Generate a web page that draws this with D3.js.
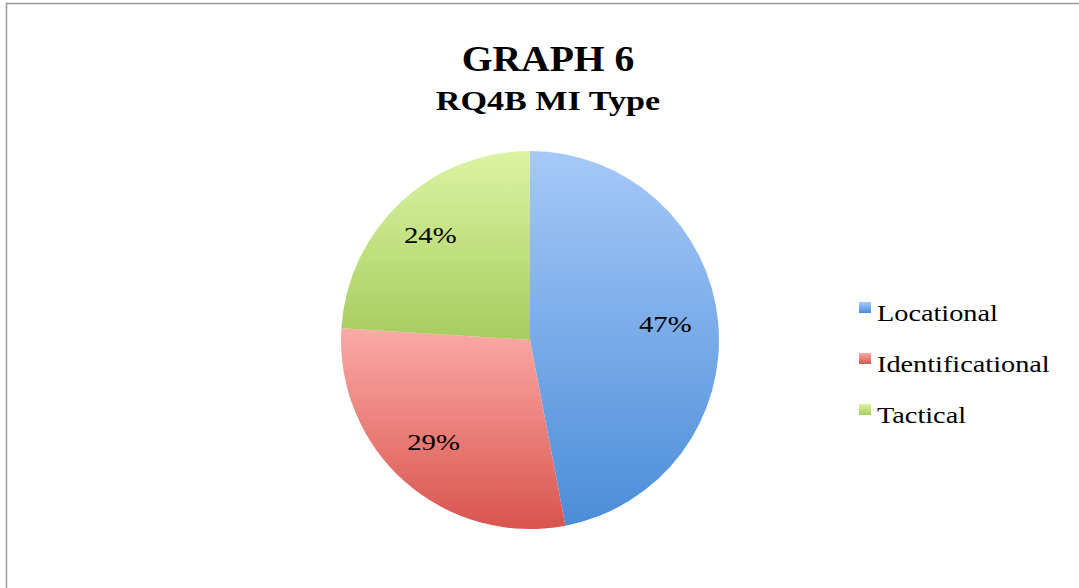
<!DOCTYPE html>
<html>
<head>
<meta charset="utf-8">
<script src="https://cdn.jsdelivr.net/npm/d3@7"></script>
<style>
  html, body { margin: 0; padding: 0; background: #fff; }
  svg { display: block; }
</style>
</head>
<body>
<svg id="chart" width="1079" height="588"></svg>
<script>
// Chart data
const categories = ["Locational", "Identificational", "Tactical"];
const shares = [47, 29, 24];
const labels = ["47%", "29%", "24%"];
const title = "GRAPH 6";
const subtitle = "RQ4B MI Type";

// Gradient stops per slice (light top, dark bottom)
const topColors = ["#a6c9f8", "#fbaaa7", "#dcf4a3"];
const bottomColors = ["#4b8dd8", "#d9544d", "#a7cc5f"];

const FONT = "'Liberation Serif', 'Times New Roman', Times, 'DejaVu Serif', serif";
const W = 1079, H = 588;
const svg = d3.select("#chart");

const defs = svg.append("defs");
categories.forEach((c, i) => {
  const g = defs.append("linearGradient")
    .attr("id", "grad" + i)
    .attr("x1", 0).attr("y1", 0).attr("x2", 0).attr("y2", 1);
  g.append("stop").attr("offset", "0%").attr("stop-color", topColors[i]);
  g.append("stop").attr("offset", "100%").attr("stop-color", bottomColors[i]);
});

// Frame
svg.append("rect")
  .attr("x", 6.5).attr("y", 3.5)
  .attr("width", W + 20).attr("height", H + 20)
  .attr("fill", "none")
  .attr("stroke", "#9a9a9a")
  .attr("stroke-width", 1.5);

// Titles (type is drawn slightly widened)
function stretchedText(x, y, str, size, weight, sx) {
  return svg.append("text")
    .attr("transform", `translate(${x},${y}) scale(${sx},1)`)
    .attr("text-anchor", "middle")
    .attr("font-family", FONT)
    .attr("font-size", size)
    .attr("font-weight", weight)
    .attr("fill", "#000")
    .text(str);
}
stretchedText(548, 71, title, 36, "bold", 1.1);
stretchedText(548, 110, subtitle, 28, "bold", 1.22);

// Pie
const cx = 530, cy = 340, r = 189;
const pie = d3.pie().sort(null).value(d => d)(shares);
const arc = d3.arc().innerRadius(0).outerRadius(r);
const labelArc = d3.arc().innerRadius(r * 0.74).outerRadius(r * 0.74);

const gPie = svg.append("g").attr("transform", `translate(${cx},${cy})`);
gPie.selectAll("path.slice")
  .data(pie)
  .join("path")
  .attr("class", "slice")
  .attr("d", arc)
  .attr("fill", (d, i) => `url(#grad${i})`);

gPie.selectAll("text.lbl")
  .data(pie)
  .join("text")
  .attr("class", "lbl")
  .attr("transform", (d) => {
    const [x, y] = labelArc.centroid(d);
    return `translate(${x - 4},${y - 3}) scale(1.25,1)`;
  })
  .attr("text-anchor", "middle")
  .attr("dy", "0.35em")
  .attr("font-family", FONT)
  .attr("font-size", 23)
  .attr("fill", "#000")
  .text((d, i) => labels[i]);

// Legend
const legendY = d3.scalePoint().domain(categories).range([313, 415]);
const gLeg = svg.append("g");
const items = gLeg.selectAll("g.item")
  .data(categories)
  .join("g")
  .attr("class", "item")
  .attr("transform", d => `translate(859,${legendY(d)})`);
items.append("rect")
  .attr("x", 0).attr("y", -11)
  .attr("width", 12).attr("height", 11)
  .attr("fill", (d, i) => `url(#grad${i})`);
items.append("text")
  .attr("transform", `translate(18,8) scale(1.23,1)`)
  .attr("font-family", FONT)
  .attr("font-size", 23)
  .attr("fill", "#000")
  .text(d => d);
</script>
</body>
</html>
